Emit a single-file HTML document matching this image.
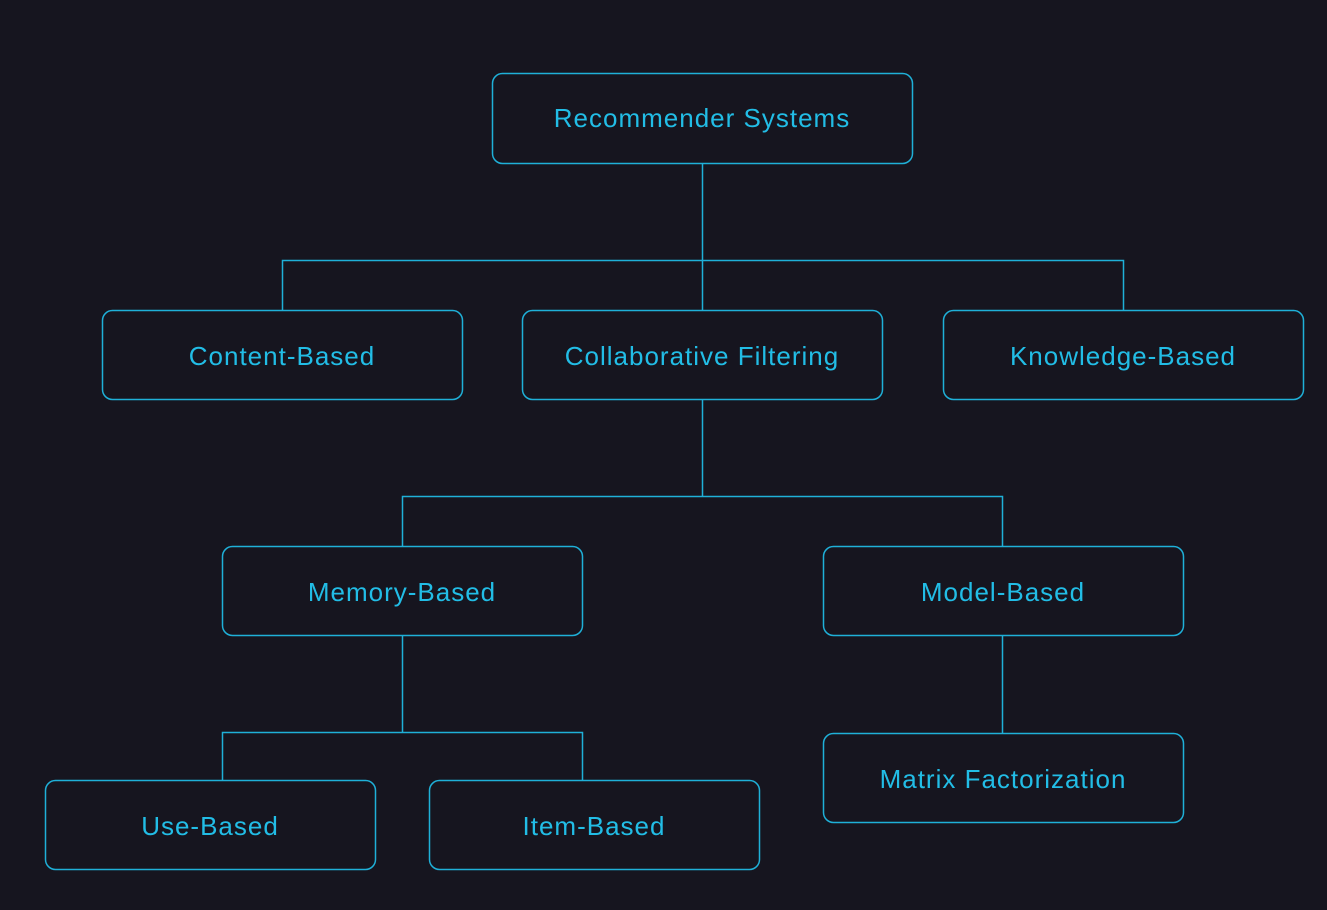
<!DOCTYPE html>
<html><head><style>
html,body{margin:0;padding:0;background:#16151f;}
svg{display:block}
text{font-family:"Liberation Sans",sans-serif;font-size:26px;fill:#22bde6;text-anchor:middle;dominant-baseline:central;letter-spacing:1px}
rect{fill:none;stroke:#1fb0d8;stroke-width:1.5}
path{fill:none;stroke:#1fb0d8;stroke-width:1.5}
</style></head><body>
<svg width="1327" height="910" viewBox="0 0 1327 910">
<rect x="0" y="0" width="1327" height="910" style="fill:#16151f;stroke:none"/>
<path d="M702.5 163V260M282.5 310V260.5H1123.5V310M702.5 260V310"/>
<path d="M702.5 399V496M402.5 546V496.5H1002.5V546"/>
<path d="M402.5 635V732M222.5 780V732.5H582.5V780"/>
<path d="M1002.5 635V733"/>
<rect x="492.5" y="73.5" width="420" height="90" rx="10"/>
<text x="702" y="118">Recommender Systems</text>
<rect x="102.5" y="310.5" width="360" height="89" rx="10"/>
<text x="282" y="356">Content-Based</text>
<rect x="522.5" y="310.5" width="360" height="89" rx="10"/>
<text x="702" y="356">Collaborative Filtering</text>
<rect x="943.5" y="310.5" width="360" height="89" rx="10"/>
<text x="1123" y="356">Knowledge-Based</text>
<rect x="222.5" y="546.5" width="360" height="89" rx="10"/>
<text x="402" y="592">Memory-Based</text>
<rect x="823.5" y="546.5" width="360" height="89" rx="10"/>
<text x="1003" y="592">Model-Based</text>
<rect x="45.5" y="780.5" width="330" height="89" rx="10"/>
<text x="210" y="826">Use-Based</text>
<rect x="429.5" y="780.5" width="330" height="89" rx="10"/>
<text x="594" y="826">Item-Based</text>
<rect x="823.5" y="733.5" width="360" height="89" rx="10"/>
<text x="1003" y="779">Matrix Factorization</text>
</svg>
</body></html>
